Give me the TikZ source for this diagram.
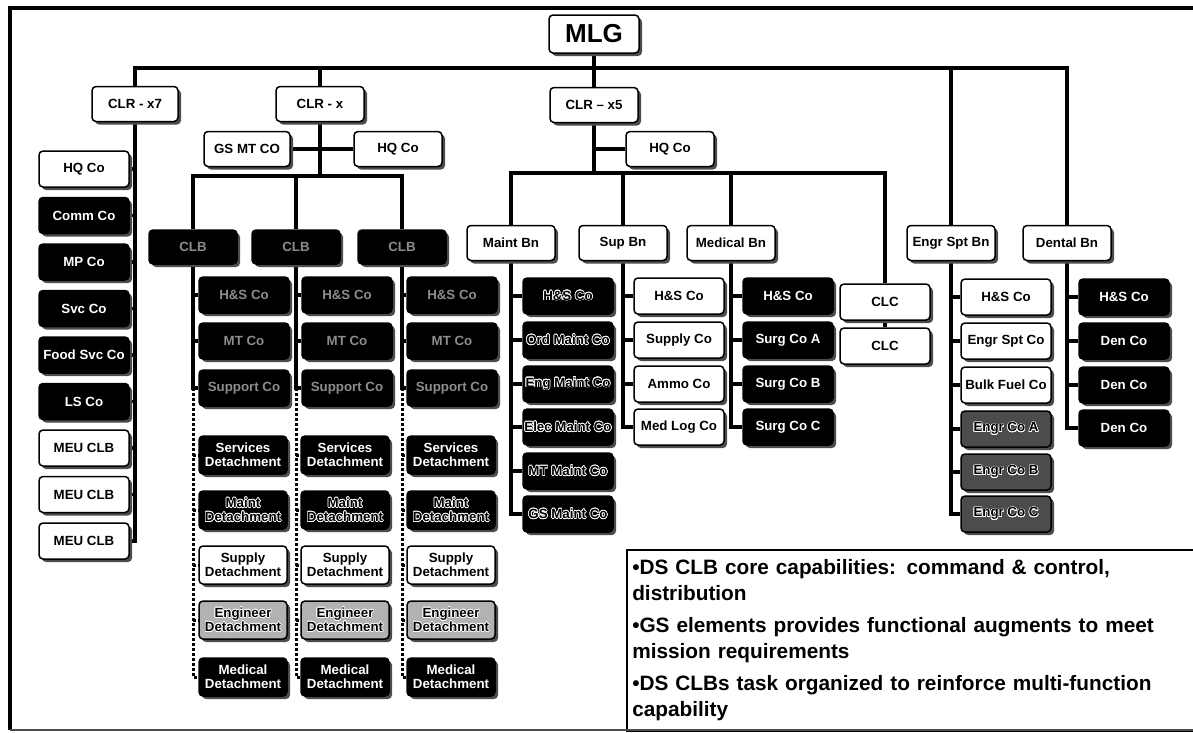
\documentclass[tikz,border=0pt]{standalone}
\usepackage{fontspec}
\setmainfont{Liberation Sans}
\usepackage[copies]{contour}
\usetikzlibrary{shadows,backgrounds}
\contourlength{0.6pt}
\newcommand{\hollow}[1]{\contour{white}{#1}}

\begin{document}
\begin{tikzpicture}[x=1pt,y=-1pt,
  box/.style={draw=black,line width=1.5pt,rounded corners=4pt,minimum width=88pt,minimum height=35pt,
    inner sep=1pt,align=center,font=\fontsize{13.3}{14}\selectfont\bfseries,
    drop shadow={shadow xshift=3pt,shadow yshift=-3pt,fill=black!70,opacity=1}},
  wbox/.style={box,fill=white,text=black},
  bbox/.style={box,fill=black,text=white},
  dbox/.style={box,fill=black,text=black!45},
  hbox/.style={box,fill=black,text=black},
  gbox/.style={box,fill=black!70,text=black},
  lbox/.style={box,fill=black!30,text=black},
  cbox/.style={minimum width=90pt,minimum height=36pt},
  det/.style={minimum width=88pt,minimum height=38pt},
  link/.style={line width=3.2pt},
  dots/.style={line width=3pt,dash pattern=on 3pt off 2pt},
  note/.style={draw=black,line width=1.5pt,fill=white,anchor=north west,minimum width=567pt,
    minimum height=181pt,text width=556pt,align=left,inner xsep=5pt,
    font=\fontsize{20.8}{26}\selectfont\bfseries}]
  \useasboundingbox (0,0) rectangle (1193,732);

  \node[wbox,minimum width=90pt,minimum height=38pt,font=\fontsize{26}{28}\selectfont\bfseries] (mlg) at (594,34) {MLG};
  \node[wbox,minimum width=86pt] (x7) at (135,104) {CLR - x7};
  \node[wbox] (clrx) at (320,104) {CLR - x};
  \node[wbox] (x5) at (594,105) {CLR – x5};
  \node[wbox,minimum width=86pt] (gsmt) at (247,149) {GS MT CO};
  \node[wbox] (hqx) at (398,149) {HQ Co};
  \node[wbox] (hq5) at (670,149) {HQ Co};

  \node[wbox,cbox] (hq7) at (84,169) {HQ Co};
  \node[bbox,cbox] (comm) at (84,215.5) {Comm Co};
  \node[bbox,cbox] (mp) at (84,262) {MP Co};
  \node[bbox,cbox] (svc) at (84,308.5) {Svc Co};
  \node[bbox,cbox] (food) at (84,355) {Food Svc Co};
  \node[bbox,cbox] (ls) at (84,401.5) {LS Co};
  \node[wbox,cbox] (meu1) at (84,448) {MEU CLB};
  \node[wbox,cbox] (meu2) at (84,494.5) {MEU CLB};
  \node[wbox,cbox] (meu3) at (84,541) {MEU CLB};

  \node[dbox,minimum height=34pt] (clb1) at (193,247) {CLB};
  \node[dbox,minimum height=34pt] (clb2) at (296,247) {CLB};
  \node[dbox,minimum height=34pt] (clb3) at (402,247) {CLB};

  \node[dbox,cbox] (hs1) at (244,295) {H\&S Co};
  \node[dbox,cbox] (mt1) at (244,341) {MT Co};
  \node[dbox,cbox] (sp1) at (244,388) {Support Co};
  \node[dbox,cbox] (hs2) at (347,295) {H\&S Co};
  \node[dbox,cbox] (mt2) at (347,341) {MT Co};
  \node[dbox,cbox] (sp2) at (347,388) {Support Co};
  \node[dbox,cbox] (hs3) at (452,295) {H\&S Co};
  \node[dbox,cbox] (mt3) at (452,341) {MT Co};
  \node[dbox,cbox] (sp3) at (452,388) {Support Co};

  \node[bbox,det] (sd1) at (243,455) {Services\\Detachment};
  \node[hbox,det] (md1) at (243,510) {\hollow{Maint}\\\hollow{Detachment}};
  \node[wbox,det] (yd1) at (243,565) {Supply\\Detachment};
  \node[lbox,det] (ed1) at (243,620) {\hollow{Engineer}\\\hollow{Detachment}};
  \node[bbox,det] (dd1) at (243,677) {Medical\\Detachment};
  \node[bbox,det] (sd2) at (345,455) {Services\\Detachment};
  \node[hbox,det] (md2) at (345,510) {\hollow{Maint}\\\hollow{Detachment}};
  \node[wbox,det] (yd2) at (345,565) {Supply\\Detachment};
  \node[lbox,det] (ed2) at (345,620) {\hollow{Engineer}\\\hollow{Detachment}};
  \node[bbox,det] (dd2) at (345,677) {Medical\\Detachment};
  \node[bbox,det] (sd3) at (451,455) {Services\\Detachment};
  \node[hbox,det] (md3) at (451,510) {\hollow{Maint}\\\hollow{Detachment}};
  \node[wbox,det] (yd3) at (451,565) {Supply\\Detachment};
  \node[lbox,det] (ed3) at (451,620) {\hollow{Engineer}\\\hollow{Detachment}};
  \node[bbox,det] (dd3) at (451,677) {Medical\\Detachment};

  \node[wbox] (mbn) at (511,243) {Maint Bn};
  \node[hbox,cbox] (mc1) at (568,296) {\hollow{H\&S Co}};
  \node[hbox,cbox] (mc2) at (568,340) {\hollow{Ord Maint Co}};
  \node[hbox,cbox] (mc3) at (568,384) {\hollow{Eng Maint Co}};
  \node[hbox,cbox] (mc4) at (568,427) {\hollow{Elec Maint Co}};
  \node[hbox,cbox] (mc5) at (568,471) {\hollow{MT Maint Co}};
  \node[hbox,cbox] (mc6) at (568,514) {\hollow{GS Maint Co}};

  \node[wbox] (sbn) at (623,243) {Sup Bn};
  \node[wbox,cbox] (sc1) at (679,296) {H\&S Co};
  \node[wbox,cbox] (sc2) at (679,340) {Supply Co};
  \node[wbox,cbox] (sc3) at (679,384) {Ammo Co};
  \node[wbox,cbox] (sc4) at (679,427) {Med Log Co};

  \node[wbox] (medbn) at (731,243) {Medical Bn};
  \node[bbox,cbox] (dc1) at (788,296) {H\&S Co};
  \node[bbox,cbox] (dc2) at (788,340) {Surg Co A};
  \node[bbox,cbox] (dc3) at (788,384) {Surg Co B};
  \node[bbox,cbox] (dc4) at (788,427) {Surg Co C};

  \node[wbox,cbox] (clc1) at (885,302) {CLC};
  \node[wbox,cbox] (clc2) at (885,346) {CLC};

  \node[wbox] (ebn) at (951,243) {Engr Spt Bn};
  \node[wbox,cbox] (ec1) at (1006,297) {H\&S Co};
  \node[wbox,cbox] (ec2) at (1006,341) {Engr Spt Co};
  \node[wbox,cbox] (ec3) at (1006,385) {Bulk Fuel Co};
  \node[gbox,cbox] (ec4) at (1006,429) {\hollow{Engr Co A}};
  \node[gbox,cbox] (ec5) at (1006,472) {\hollow{Engr Co B}};
  \node[gbox,cbox] (ec6) at (1006,514) {\hollow{Engr Co C}};

  \node[wbox] (denbn) at (1067,243) {Dental Bn};
  \node[bbox,cbox] (nc1) at (1124,297) {H\&S Co};
  \node[bbox,cbox] (nc2) at (1124,341) {Den Co};
  \node[bbox,cbox] (nc3) at (1124,385) {Den Co};
  \node[bbox,cbox] (nc4) at (1124,428) {Den Co};

  \node[note] (txt) at (626,549) {•DS CLB core capabilities: command \& control,\\distribution\\[6pt]
    •GS elements provides functional augments to meet\\mission requirements\\[6pt]
    •DS CLBs task organized to reinforce multi-function\\capability};

  \coordinate (top) at (594,68);
  \coordinate (midx) at (320,176);
  \coordinate (mid5) at (594,173);

  \begin{scope}[on background layer]
    \draw[link] (x7.north) -- (x7.north |- top) -| (denbn.north);
    \draw[link] (mlg.south) -- (x5.north);
    \draw[link] (clrx.north) -- (clrx.north |- top);
    \draw[link] (ebn.north) -- (ebn.north |- top);
    \foreach \c in {hq7,comm,mp,svc,food,ls,meu1,meu2,meu3}
      \draw[link] (x7.south) |- (\c.east);
    \draw[link] (clrx.south) -- (midx);
    \draw[link] (gsmt.east) -- (hqx.west);
    \draw[link] (clb1.north) |- (midx) -| (clb3.north);
    \draw[link] (clb2.north) -- (clb2.north |- midx);
    \foreach \i in {1,2,3} {
      \foreach \c in {hs,mt,sp}
        \draw[link] (clb\i.south) |- (\c\i.west);
      \draw[dots] (clb\i.south |- sp\i.west) |- (dd\i.west);
      \foreach \c in {sd,md,yd,ed}
        \draw[dots] (clb\i.south |- \c\i.west) -- (\c\i.west);
    }
    \draw[link] (x5.south) -- (mid5);
    \draw[link] (x5.south |- hq5.west) -- (hq5.west);
    \draw[link] (mbn.north) |- (mid5) -| (clc1.north);
    \draw[link] (sbn.north) -- (sbn.north |- mid5);
    \draw[link] (medbn.north) -- (medbn.north |- mid5);
    \draw[link] (clc1.south) -- (clc2.north);
    \foreach \c in {mc1,mc2,mc3,mc4,mc5,mc6}
      \draw[link] (mbn.south) |- (\c.west);
    \foreach \c in {sc1,sc2,sc3,sc4}
      \draw[link] (sbn.south) |- (\c.west);
    \foreach \c in {dc1,dc2,dc3,dc4}
      \draw[link] (medbn.south) |- (\c.west);
    \foreach \c in {ec1,ec2,ec3,ec4,ec5,ec6}
      \draw[link] (ebn.south) |- (\c.west);
    \foreach \c in {nc1,nc2,nc3,nc4}
      \draw[link] (denbn.south) |- (\c.west);
  \end{scope}

  \draw[line width=4pt] (1193,8) -- (10,8) -- (10,730);
  \draw[line width=1.2pt,black!70] (10,730) -- (1193,730);
\end{tikzpicture}
\end{document}
